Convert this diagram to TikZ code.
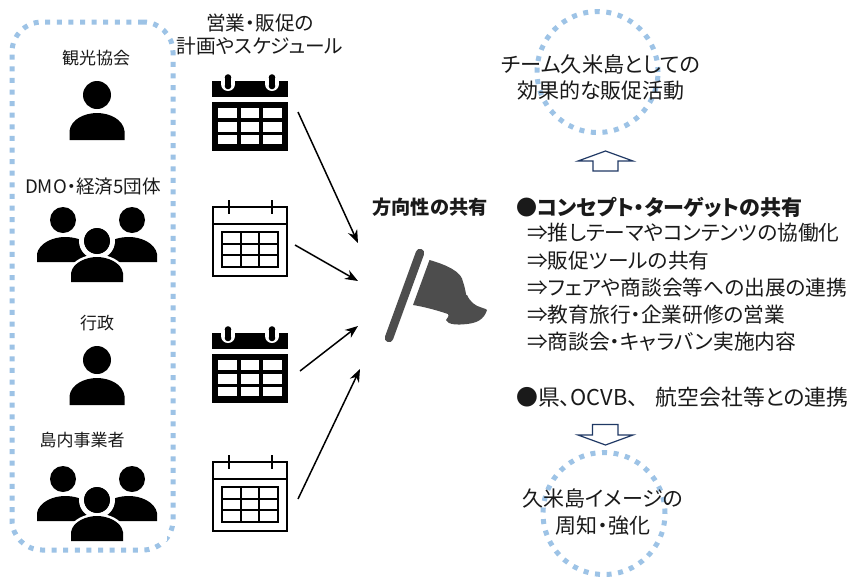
\documentclass[tikz,border=0pt]{standalone}
\usepackage{fontspec}
\usetikzlibrary{arrows.meta}
\setmainfont[RawFeature={+palt}]{Noto Sans CJK JP}
\definecolor{dotblue}{HTML}{9DC3E6}
\definecolor{navy}{HTML}{1F3864}
\definecolor{flaggrey}{HTML}{4D4D4D}
\definecolor{txt}{HTML}{1A1A1A}
\tikzset{
  dotline/.style={draw=dotblue,line width=5pt,dash pattern=on 5pt off 6.6pt},
  lab/.style={inner sep=0pt,text=txt,font=\fontsize{#1}{#1}\selectfont},
  lab/.default=17,
  leftlab/.style={lab=#1,anchor=west},
  leftlab/.default=20.7,
  conn/.style={-{Stealth[length=13pt,width=10pt]},line width=1.5pt},
  block/.style={draw=navy,line width=1.2pt,fill=white,line join=miter},
  person/.pic={
    \fill (0,0) circle[radius=14pt];
    \fill (-27.5,45) -- (-27.5,36) .. controls (-26,24) and (-12,18) .. (0,18)
          .. controls (12,18) and (26,24) .. (27.5,36) -- (27.5,45) -- cycle;
  },
  crowd/.pic={
    \fill (-34,0) circle[radius=13pt];
    \fill (35,0) circle[radius=13pt];
    \fill (-60,42) -- (-60,34) .. controls (-58,23) and (-44,17) .. (-32,17)
          .. controls (-22,17) and (-14,20) .. (-8,24) -- (0,42) -- cycle;
    \fill (60,42) -- (60,34) .. controls (58,23) and (44,17) .. (32,17)
          .. controls (22,17) and (14,20) .. (8,24) -- (0,42) -- cycle;
    \filldraw[draw=white,line width=5pt] (0,21) circle[radius=15.5pt];
    \filldraw[draw=white,line width=5pt] (-26,63) -- (-26,53) .. controls (-24,42) and (-10,37) .. (0,37)
          .. controls (10,37) and (24,42) .. (26,53) -- (26,63) -- cycle;
    \fill (-26,62) -- (-26,53) .. controls (-24,42) and (-10,37) .. (0,37)
          .. controls (10,37) and (24,42) .. (26,53) -- (26,62) -- cycle;
    \fill (0,21) circle[radius=13pt];
    \fill[white] (-70,62) rectangle (-26.5,43);
    \fill[white] (26.5,62) rectangle (70,43);
  },
  solidcal/.pic={
    \fill (0,0) rectangle (76,16);
    \fill (0,21) rectangle (76,70);
    \foreach \x/\w in {6/19,29/18,51/19}
      \foreach \y/\h in {27/10,41/10,54/9}
        \fill[white] (\x,\y) rectangle ++(\w,\h);
    \foreach \x in {16,60}{
      \fill[white] (\x-7,-1) rectangle (\x+7,3);
      \fill[white] (\x,3) circle[radius=7pt];
      \fill (\x-3.3,-3.5) rectangle (\x+3.3,5);
      \fill (\x,-3.5) circle[radius=3.3pt];
      \fill (\x,5) circle[radius=3.3pt];
    }
  },
  linecal/.pic={
    \draw[line width=2pt] (0,0) rectangle (74,69);
    \draw[line width=2pt] (0,17) -- (74,17);
    \draw[line width=1.8pt] (16,-7) -- (16,7) (59,-7) -- (59,7);
    \draw[line width=2pt] (9,25) rectangle (65,60);
    \draw[line width=1.8pt] (28,25) -- (28,60) (46,25) -- (46,60) (9,37) -- (65,37) (9,48) -- (65,48);
  }
}
\begin{document}
\begin{tikzpicture}[x=1pt,y=-1pt]
\useasboundingbox (0,0) rectangle (855,579);
\fill[white] (0,0) rectangle (855,579);

% left rounded dotted frame
\node[dotline,rounded corners=30pt,minimum width=161pt,minimum height=528pt,inner sep=0pt] (frame) at (92.5,286) {};

% dotted circles
\node[dotline,circle,minimum size=121pt,inner sep=0pt] (topcircle) at (597.5,72) {};
\node[dotline,circle,minimum size=122pt,inner sep=0pt] (botcircle) at (604,513.5) {};

% left labels
\node[lab] (l1) at (96,58) {観光協会};
\node[lab=18.6] (l2) at (93,187) {DMO・経済5団体};
\node[lab] (l3) at (97,323) {行政};
\node[lab] (l4) at (82,440) {島内事業者};
\node[lab=19.7] (h1) at (260,23) {営業・販促の};
\node[lab=19.7] (h2) at (260,46) {計画やスケジュール};

% icons
\pic at (97,95) {person};
\pic at (97,220) {crowd};
\pic at (97,360) {person};
\pic at (97,479) {crowd};
\pic at (212,81) {solidcal};
\pic at (213,207) {linecal};
\pic at (212,333) {solidcal};
\pic at (213,462) {linecal};

% flag
\draw[flaggrey,line width=8.5pt,line cap=round] (420,253) -- (389,338);
\fill[flaggrey] (429.5,260) .. controls (447,265) and (462,272) .. (463,282)
  .. controls (466,290) and (466,298) .. (467,295)
  .. controls (470,302) and (476,306) .. (480,307)
  .. controls (485,309) and (487,309) .. (487,310)
  .. controls (484,320) and (476,323) .. (467,324)
  .. controls (458,325) and (448,325) .. (446,320)
  .. controls (449,316) and (449,315) .. (448,314)
  .. controls (436,310) and (425,307) .. (413,305) -- cycle;

% connectors
\coordinate (c1) at (298,112); \coordinate (t1) at (358,243);
\coordinate (c2) at (295,245); \coordinate (t2) at (358,281);
\coordinate (c3) at (300,371); \coordinate (t3) at (358,326);
\coordinate (c4) at (298,499); \coordinate (t4) at (360,369);
\draw[conn] (c1) -- (t1);
\draw[conn] (c2) -- (t2);
\draw[conn] (c3) -- (t3);
\draw[conn] (c4) -- (t4);

% centre and right text
\node[lab=19.2,font=\fontsize{19.2}{19.2}\selectfont\bfseries] (dir) at (430,207) {方向性の共有};
\node[leftlab=21,font=\fontsize{21}{21}\selectfont\bfseries] (b0) at (516,207) {●コンセプト・ターゲットの共有};
\node[leftlab] (b1) at (527,233) {⇒推しテーマやコンテンツの協働化};
\node[leftlab] (b2) at (527,261) {⇒販促ツールの共有};
\node[leftlab] (b3) at (527,288) {⇒フェアや商談会等への出展の連携};
\node[leftlab] (b4) at (527,315) {⇒教育旅行・企業研修の営業};
\node[leftlab] (b5) at (527,342) {⇒商談会・キャラバン実施内容};
\node[leftlab=21.8] (b6) at (516,397) {●県、OCVB、\hspace{0.8em}航空会社等との連携};

\node[lab=21.2] (t1a) at (601,64) {チーム久米島としての};
\node[lab=21] (t1b) at (601,91) {効果的な販促活動};
\node[lab=21] (t2a) at (603,499) {久米島イメージの};
\node[lab=21] (t2b) at (603,526) {周知・強化};

% block arrows
\draw[block] (605.5,151) -- (633,161) -- (618,161) -- (618,171) -- (593,171) -- (593,161) -- (578,161) -- cycle;
\draw[block] (605.5,445) -- (633,435) -- (618,435) -- (618,424.5) -- (592.5,424.5) -- (592.5,435) -- (578,435) -- cycle;
\end{tikzpicture}
\end{document}
